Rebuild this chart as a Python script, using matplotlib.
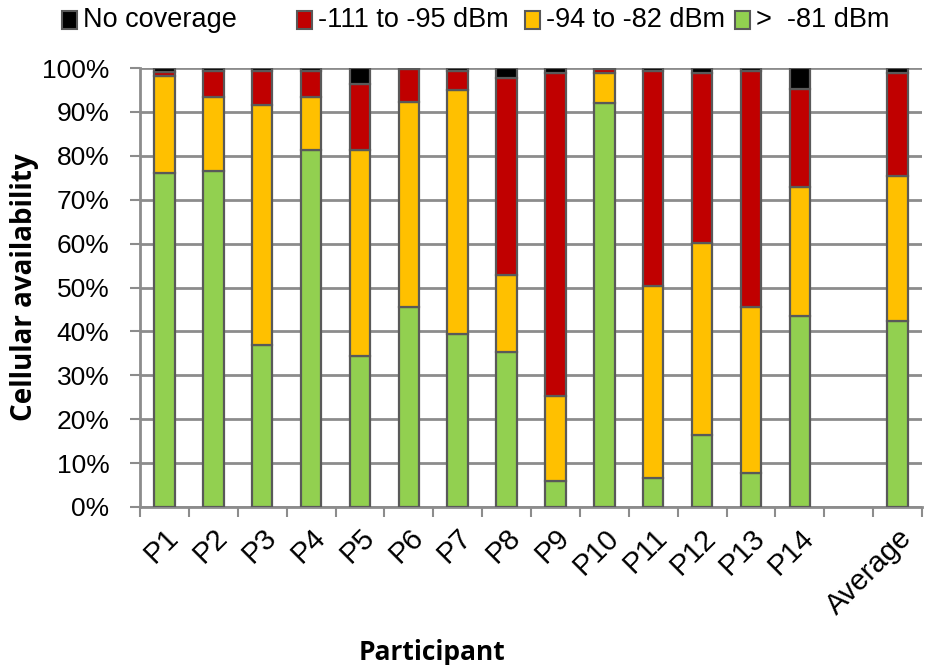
import numpy as np
import matplotlib
matplotlib.use("Agg")
import matplotlib.pyplot as plt
from matplotlib.patches import Rectangle

plt.rcParams['font.family'] = ['Liberation Sans', 'DejaVu Sans']

# category slots along x (one empty slot before the average)
slots = ['P1', 'P2', 'P3', 'P4', 'P5', 'P6', 'P7', 'P8', 'P9', 'P10',
         'P11', 'P12', 'P13', 'P14', '', 'Average']

# share of time (%) in each signal band, one value per bar
good = [76.0, 76.5, 37.0, 81.3, 34.5, 45.5, 39.5, 35.2, 6.0, 92.1,
        6.5, 16.4, 7.8, 43.6, 42.4]
medium = [22.2, 17.0, 54.6, 12.2, 46.8, 46.8, 55.6, 17.6, 19.3, 6.8,
          43.8, 43.7, 37.7, 29.4, 33.0]
weak = [0.9, 5.8, 7.7, 5.8, 15.1, 7.5, 4.2, 44.9, 73.6, 0.8,
        49.0, 38.8, 53.8, 22.2, 23.4]
none = [0.9, 0.7, 0.7, 0.7, 3.6, 0.2, 0.7, 2.3, 1.1, 0.3,
        0.7, 1.1, 0.7, 4.8, 1.2]

series = [
    ('No coverage', none, '#000000'),
    ('-111 to -95 dBm', weak, '#C00000'),
    ('-94 to -82 dBm', medium, '#FFC000'),
    ('>  -81 dBm', good, '#92D050'),
]

W, H = 931, 665
fig = plt.figure(figsize=(W / 100, H / 100), dpi=100)
ax = fig.add_axes([140 / W, 1 - 507 / H, 782 / W, 439 / H])

x = np.array([i for i, s in enumerate(slots) if s])
edge = '#595959'

bottom = np.zeros(len(x))
for name, vals, col in reversed(series):
    ax.bar(x, vals, width=0.42, bottom=bottom, color=col,
           edgecolor=edge, linewidth=1.6, zorder=3)
    bottom += np.array(vals)

ax.set_xlim(-0.5, len(slots) - 0.5)
ax.set_ylim(0, 100)

ax.set_yticks(np.arange(0, 101, 10))
ax.set_yticklabels([f'{v}%' for v in range(0, 101, 10)], fontsize=19)
ax.yaxis.grid(True, color='#8c8c8c', linewidth=2.0, zorder=0)
ax.set_axisbelow(True)

# boundaries get tick marks, centres get the labels
ax.set_xticks(np.arange(-0.5, len(slots), 1.0))
ax.set_xticklabels([])
ax.set_xticks(np.arange(len(slots)), minor=True)
ax.set_xticklabels(slots, minor=True, rotation=45, ha='right',
                   va='top', rotation_mode='anchor', fontsize=21)
ax.tick_params(axis='x', which='major', length=7, width=1.5, color='#8c8c8c')
ax.tick_params(axis='x', which='minor', length=0, pad=12)
ax.tick_params(axis='y', length=7, width=1.5, color='#8c8c8c', pad=15)

for side in ['top', 'right']:
    ax.spines[side].set_visible(False)
for side in ['left', 'bottom']:
    ax.spines[side].set_color('#8c8c8c')
    ax.spines[side].set_linewidth(2.0)

ax.set_ylabel('Cellular availability', fontsize=20, fontweight='bold',
              family=['Open Sans', 'DejaVu Sans'], labelpad=2)
fig.text(432 / W, 1 - 652 / H, 'Participant', ha='center', va='center',
         fontsize=19, fontweight='bold', family=['Open Sans', 'DejaVu Sans'])

# legend row across the top: swatch left edges in pixels
key_x = [62, 297, 525, 735]
for (name, vals, col), kx in zip(series, key_x):
    fig.add_artist(Rectangle((kx / W, 1 - 29 / H), 15 / W, 18 / H,
                             transform=fig.transFigure, facecolor=col,
                             edgecolor=edge, linewidth=1.5))
    fig.text((kx + 21) / W, 1 - 20 / H, name, ha='left', va='center',
             fontsize=19.5)

fig.savefig('out.png', dpi=100)
